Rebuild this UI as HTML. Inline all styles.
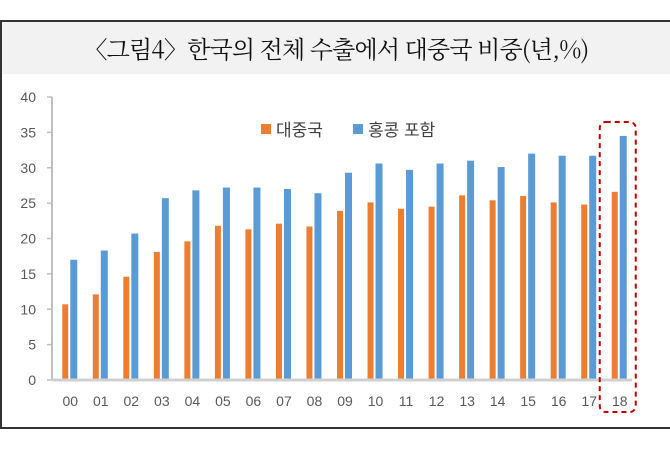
<!DOCTYPE html>
<html><head><meta charset="utf-8"><style>
html,body{margin:0;padding:0;background:#fff;}
body{width:670px;height:454px;position:relative;overflow:hidden;font-family:"Liberation Sans","Noto Sans CJK KR",sans-serif;}
#frame{position:absolute;left:0;top:20px;width:672px;height:409px;border-top:2px solid #333;border-left:2px solid #333;border-bottom:2px solid #333;box-sizing:border-box;}
#title{position:absolute;left:2px;top:22px;width:668px;height:52px;background:#f2f2f2;text-align:center;line-height:52px;font-size:24px;letter-spacing:-0.8px;color:#111;font-family:"Noto Serif CJK SC","Noto Sans CJK KR",serif;}
svg{position:absolute;left:0;top:0;}
</style></head><body>
<div id="frame"></div>
<div id="title">〈그림4〉한국의 전체 수출에서 대중국 비중(년,%)</div>
<svg id="chart" width="670" height="454"></svg>
<script>
const categories=["00","01","02","03","04","05","06","07","08","09","10","11","12","13","14","15","16","17","18"];
const chinaValues=[10.7,12.1,14.6,18.1,19.6,21.8,21.3,22.1,21.7,23.9,25.1,24.2,24.5,26.1,25.4,26.0,25.1,24.8,26.6];
const hkValues=[17.0,18.3,20.7,25.7,26.8,27.2,27.2,27.0,26.4,29.3,30.6,29.7,30.6,31.0,30.1,32.0,31.7,31.7,34.5];
const yTicks=[0,5,10,15,20,25,30,35,40];
const seriesNames=["대중국","홍콩 포함"];
const NS="http://www.w3.org/2000/svg";
const svg=document.getElementById('chart');
const x0=52,x1=632,y0=380,yTop=97,yMax=40;
const step=(x1-x0)/categories.length;
const y=v=>y0-(v/yMax)*(y0-yTop);
const xc=i=>x0+step*(i+0.5);
function mk(tag,attrs){const e=document.createElementNS(NS,tag);for(const k in attrs)e.setAttribute(k,attrs[k]);svg.appendChild(e);return e;}
let ax=mk('line',{x1:x0,y1:yTop,x2:x0,y2:y0,stroke:'#bfbfbf','stroke-width':2});


yTicks.forEach(t=>{
  const tk=mk('line',{x1:x0-5,y1:y(t),x2:x0,y2:y(t),stroke:'#bfbfbf','stroke-width':1.5});
  
  
  const tx=mk('text',{x:x0-16,y:y(t)+5,'text-anchor':'end','font-size':14,fill:'#595959'});
  tx.textContent=t;
  
  
});
categories.forEach((c,i)=>{
  const cx=xc(i);
  const b1=mk('rect',{x:cx-5,y:y(chinaValues[i]),width:6,height:y0-y(chinaValues[i]),fill:'#ed7d31'});
  
  
  const b2=mk('rect',{x:cx+3,y:y(hkValues[i]),width:7,height:y0-y(hkValues[i]),fill:'#5b9bd5'});
  
  
  const tx=mk('text',{x:cx+3,y:406,'text-anchor':'middle','font-size':14,fill:'#595959'});
  tx.textContent=c;
  
  
});
let xa=mk('line',{x1:x0,y1:y0,x2:x1,y2:y0,stroke:'#d0d0d0','stroke-width':3});


const lg=[[261,'#ed7d31',seriesNames[0]],[353,'#5b9bd5',seriesNames[1]]];
lg.forEach(([lx,col,name])=>{
  const s=mk('rect',{x:lx,y:124,width:10,height:10,fill:col});
  
  
  const t=mk('text',{x:lx+15,y:136,'font-size':17,fill:'#404040'});
  t.textContent=name;
  
  
});
const hb=mk('rect',{x:xc(18)-17,y:122,width:36,height:290,rx:6,fill:'none',stroke:'#c00000','stroke-width':2,'stroke-dasharray':'5,4'});


</script>
</body></html>
